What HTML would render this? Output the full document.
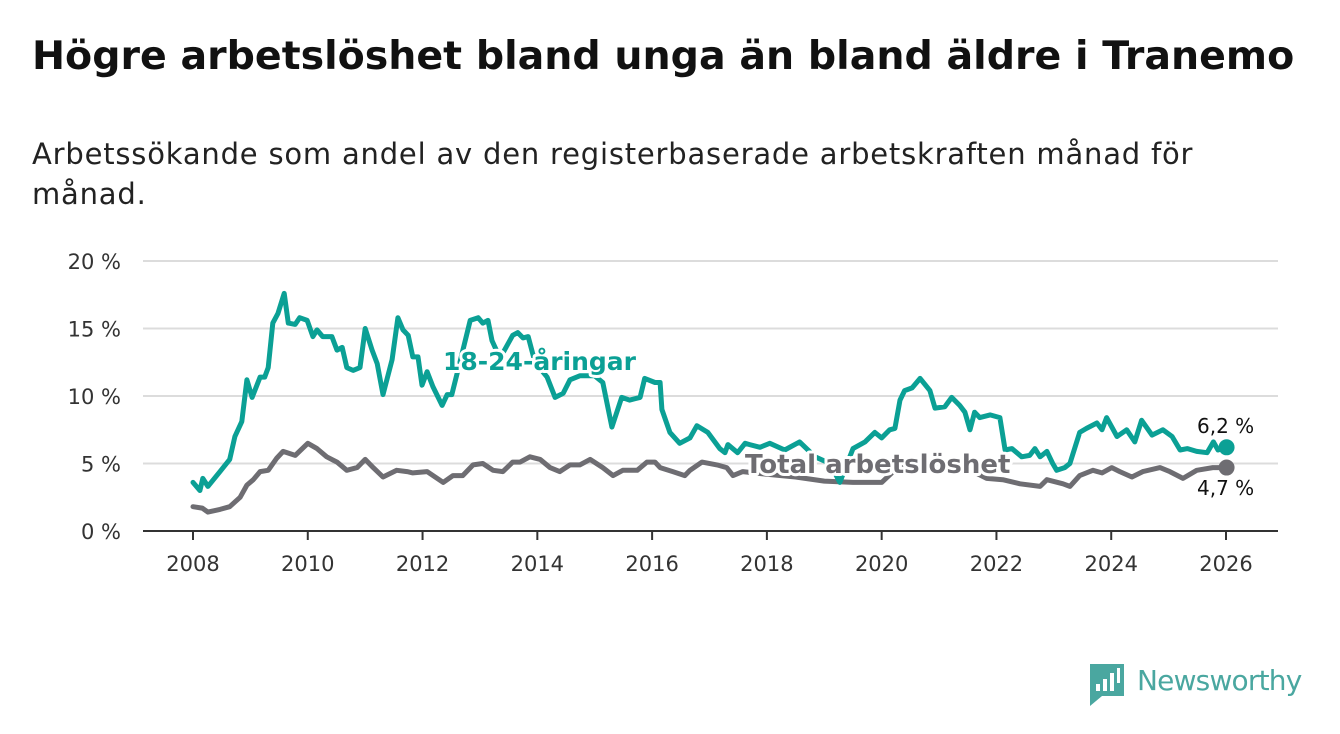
<!DOCTYPE html>
<html><head><meta charset="utf-8">
<style>
body{margin:0;background:#fff;width:1340px;height:734px;overflow:hidden;font-family:"Liberation Sans","DejaVu Sans",sans-serif;}
h1{position:absolute;left:32px;top:33px;margin:0;font-size:39.5px;font-weight:bold;color:#111;font-family:"DejaVu Sans","Liberation Sans",sans-serif;letter-spacing:0px;white-space:nowrap}
.sub{position:absolute;left:32px;top:134px;margin:0;font-size:29px;line-height:40px;color:#222;width:1250px;font-family:"DejaVu Sans","Liberation Sans",sans-serif;letter-spacing:0.8px;white-space:nowrap}
svg{position:absolute;left:0;top:0}
</style></head><body>
<h1>Högre arbetslöshet bland unga än bland äldre i Tranemo</h1>
<p class="sub">Arbetssökande som andel av den registerbaserade arbetskraften månad för<br>månad.</p>
<svg id="chart" width="1340" height="734"></svg>
<script>
const yTicks=[0,5,10,15,20];
const yTickLabels=["0 %","5 %","10 %","15 %","20 %"];
const xTicks=[2008,2010,2012,2014,2016,2018,2020,2022,2024,2026];
const youthDates=[2008.00,2008.12,2008.17,2008.26,2008.47,2008.64,2008.73,2008.85,2008.94,2009.03,2009.17,2009.25,2009.31,2009.39,2009.48,2009.59,2009.66,2009.78,2009.86,2009.99,2010.09,2010.16,2010.26,2010.42,2010.51,2010.60,2010.68,2010.79,2010.91,2011.00,2011.12,2011.21,2011.31,2011.47,2011.57,2011.66,2011.75,2011.83,2011.92,2011.99,2012.08,2012.18,2012.34,2012.43,2012.51,2012.65,2012.83,2012.97,2013.05,2013.14,2013.21,2013.35,2013.57,2013.66,2013.75,2013.84,2013.96,2014.17,2014.31,2014.45,2014.57,2014.74,2015.00,2015.14,2015.30,2015.47,2015.61,2015.79,2015.87,2016.05,2016.14,2016.17,2016.31,2016.48,2016.66,2016.78,2016.97,2017.18,2017.27,2017.32,2017.49,2017.62,2017.70,2017.88,2018.05,2018.31,2018.57,2018.84,2019.10,2019.27,2019.50,2019.71,2019.88,2020.00,2020.14,2020.23,2020.32,2020.40,2020.53,2020.67,2020.84,2020.93,2021.10,2021.22,2021.36,2021.45,2021.54,2021.62,2021.71,2021.89,2022.06,2022.15,2022.27,2022.44,2022.58,2022.67,2022.76,2022.88,2022.98,2023.05,2023.19,2023.28,2023.45,2023.57,2023.75,2023.84,2023.92,2024.10,2024.27,2024.41,2024.53,2024.71,2024.90,2025.06,2025.20,2025.33,2025.49,2025.67,2025.78,2025.86,2026.01];
const youthValues=[3.6,3.0,3.9,3.3,4.4,5.3,7.0,8.1,11.2,9.9,11.4,11.4,12.1,15.4,16.1,17.6,15.4,15.3,15.8,15.6,14.4,14.9,14.4,14.4,13.4,13.6,12.1,11.9,12.1,15.0,13.4,12.4,10.1,12.7,15.8,14.9,14.5,12.9,12.9,10.8,11.8,10.7,9.3,10.1,10.1,12.5,15.6,15.8,15.4,15.6,14.1,12.8,14.5,14.7,14.3,14.4,12.5,11.4,9.9,10.2,11.2,11.5,11.5,11.0,7.7,9.9,9.7,9.9,11.3,11.0,11.0,9.0,7.3,6.5,6.9,7.8,7.3,6.1,5.8,6.4,5.8,6.5,6.4,6.2,6.5,6.0,6.6,5.5,5.0,3.6,6.1,6.6,7.3,6.9,7.5,7.6,9.7,10.4,10.6,11.3,10.4,9.1,9.2,9.9,9.3,8.8,7.5,8.8,8.4,8.6,8.4,6.0,6.1,5.5,5.6,6.1,5.5,5.9,5.0,4.5,4.7,5.0,7.3,7.6,8.0,7.5,8.4,7.0,7.5,6.6,8.2,7.1,7.5,7.0,6.0,6.1,5.9,5.8,6.6,6.0,6.2];
const totalDates=[2008.00,2008.16,2008.26,2008.47,2008.64,2008.82,2008.94,2009.05,2009.17,2009.31,2009.46,2009.57,2009.78,2010.00,2010.16,2010.33,2010.51,2010.68,2010.86,2011.00,2011.14,2011.31,2011.55,2011.73,2011.83,2012.08,2012.36,2012.53,2012.70,2012.88,2013.05,2013.23,2013.40,2013.57,2013.70,2013.87,2014.05,2014.22,2014.39,2014.57,2014.74,2014.92,2015.14,2015.32,2015.49,2015.74,2015.91,2016.05,2016.14,2016.36,2016.57,2016.66,2016.87,2017.13,2017.30,2017.41,2017.58,2018.00,2018.50,2019.00,2019.50,2020.00,2020.30,2020.60,2021.00,2021.50,2021.83,2022.11,2022.41,2022.76,2022.88,2023.16,2023.28,2023.45,2023.68,2023.84,2024.01,2024.15,2024.36,2024.55,2024.85,2025.02,2025.25,2025.49,2025.77,2026.01];
const totalValues=[1.8,1.7,1.4,1.6,1.8,2.5,3.4,3.8,4.4,4.5,5.4,5.9,5.6,6.5,6.1,5.5,5.1,4.5,4.7,5.3,4.7,4.0,4.5,4.4,4.3,4.4,3.6,4.1,4.1,4.9,5.0,4.5,4.4,5.1,5.1,5.5,5.3,4.7,4.4,4.9,4.9,5.3,4.7,4.1,4.5,4.5,5.1,5.1,4.7,4.4,4.1,4.5,5.1,4.9,4.7,4.1,4.4,4.2,4.0,3.7,3.6,3.6,4.8,5.3,5.0,4.6,3.9,3.8,3.5,3.3,3.8,3.5,3.3,4.1,4.5,4.3,4.7,4.4,4.0,4.4,4.7,4.4,3.9,4.5,4.7,4.7];

const NS='http://www.w3.org/2000/svg';
const svg=document.getElementById('chart');
const x0=143,x1=1278,yBase=531,yTop=261;
const xs=y=>193+(y-2008)*(1226-193)/18;
const ys=v=>yBase-(v/20)*(yBase-yTop);
function mk(tag,attrs,parent){const e=document.createElementNS(NS,tag);for(const k in attrs)e.setAttribute(k,attrs[k]);(parent||svg).appendChild(e);return e;}

yTicks.forEach((t,i)=>{
  if(t>0){const g=mk('line',{x1:x0,x2:x1,y1:ys(t),y2:ys(t),stroke:'#dcdcdc','stroke-width':2});
  
  }
  const tx=mk('text',{x:121,y:ys(t)+8,'text-anchor':'end','font-size':21,fill:'#333','font-family':'DejaVu Sans, Liberation Sans, sans-serif'});
  tx.textContent=yTickLabels[i];
  
  
});
const ax=mk('line',{x1:x0,x2:x1,y1:yBase,y2:yBase,stroke:'#333','stroke-width':2});


xTicks.forEach(t=>{
  const tk=mk('line',{x1:xs(t),x2:xs(t),y1:yBase,y2:yBase+9,stroke:'#333','stroke-width':2});
  
  
  const tx=mk('text',{x:xs(t),y:571,'text-anchor':'middle','font-size':21,fill:'#333','font-family':'DejaVu Sans, Liberation Sans, sans-serif'});
  tx.textContent=t;
  
  
});
function line(d,v,color,name){
  const p=mk('path',{d:d.map((t,i)=>(i?'L':'M')+xs(t).toFixed(1)+','+ys(v[i]).toFixed(1)).join(''),fill:'none',stroke:color,'stroke-width':5,'stroke-linejoin':'round','stroke-linecap':'round'});
  
  
  const c=mk('circle',{cx:xs(d[d.length-1]),cy:ys(v[v.length-1]),r:8,fill:color});
  
  
}
line(totalDates,totalValues,'#6e6d72','total-line');
line(youthDates,youthValues,'#0ba095','youth-line');
function label(x,y,txt,color,size,weight,name){
  const t=mk('text',{x:x,y:y,'font-size':size,'font-weight':weight,fill:color,stroke:'#fff','stroke-width':6,'paint-order':'stroke','stroke-linejoin':'round','font-family':'DejaVu Sans, Liberation Sans, sans-serif'});
  t.textContent=txt;
  
  
}
label(443,370,'18-24-åringar','#0ba095',25,'bold','youth-label');
label(745,473,'Total arbetslöshet','#6e6d72',26,'bold','total-label');
label(1197,433,'6,2 %','#111',20,'normal','youth-end-value');
label(1197,495,'4,7 %','#111',20,'normal','total-end-value');
</script>
<svg width="1340" height="734" style="pointer-events:none">
<path d="M1090 664h34v32h-22l-12 10z" fill="#4aa7a0"/>
<rect x="1096" y="684" width="4" height="7" fill="#fff"/><rect x="1103" y="679" width="4" height="12" fill="#fff"/><rect x="1110" y="673" width="4" height="18" fill="#fff"/><rect x="1117" y="668" width="3" height="15" fill="#fff"/>
<text x="1137" y="690" font-size="28" fill="#4aa7a0" font-family="DejaVu Sans, Liberation Sans, sans-serif" letter-spacing="-0.8">Newsworthy</text>
</svg>
</body></html>
